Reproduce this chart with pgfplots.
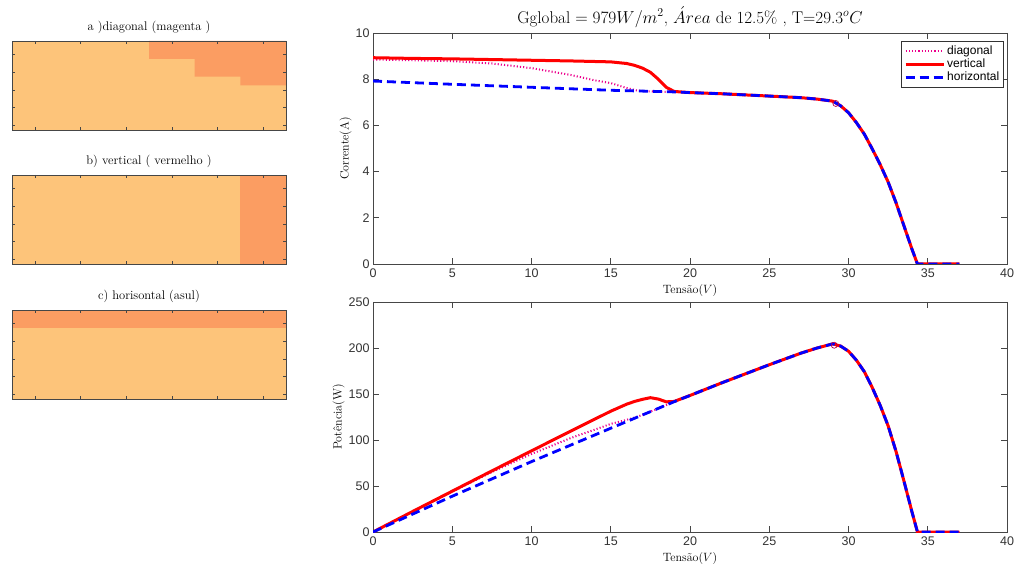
\documentclass[border=0pt]{standalone}
\usepackage{fontspec}
\usepackage{pgfplots}
\pgfplotsset{compat=1.18}
\newfontfamily\hv{Liberation Sans}

\definecolor{cellA}{RGB}{253,196,122}
\definecolor{cellB}{RGB}{251,157,98}
\definecolor{axgray}{RGB}{70,70,70}

\pgfplotsset{
  panel/.style={
    scale only axis, width=274pt, height=89pt, anchor=north west,
    xmin=0, xmax=6, ymin=0, ymax=10, y dir=reverse,
    xtick={0.5,1.5,...,5.5}, ytick={1.5,3.5,5.5,7.5,9.5},
    xticklabels={}, yticklabels={},
    tick align=inside, major tick length=3pt,
    axis on top, axis line style={axgray, line width=0.8pt},
    every tick/.style={axgray, line width=0.6pt},
    title style={font=\fontsize{12.5}{14}\selectfont, yshift=-2pt},
  },
  main/.style={
    scale only axis, width=634pt, height=231pt, anchor=north west,
    xmin=0, xmax=40, xtick={0,5,...,40},
    tick align=inside, major tick length=6pt,
    axis line style={axgray, line width=0.8pt},
    every tick/.style={axgray, line width=0.6pt},
    tick label style={font=\hv\fontsize{12.5}{13}\selectfont, text=black!80},
    xticklabel style={yshift=-1pt},
    /pgf/number format/assume math mode=true,
    label style={font=\fontsize{12}{14}\selectfont},
    xlabel style={yshift=0pt},
    ylabel style={yshift=-3pt},
  },
  diag/.style={magenta, line width=2pt, dash pattern=on 1.1pt off 2.1pt},
  vert/.style={red, line width=3pt},
  horz/.style={blue, line width=2.8pt, dash pattern=on 9pt off 5pt},
}

\begin{document}
\begin{tikzpicture}
\useasboundingbox (0,0) rectangle (1021pt,-572pt);

% left panels: shaded areas
\begin{axis}[panel, at={(12pt,-41pt)}, title={a )diagonal (magenta )}]
\addplot[fill=cellA, draw=none] coordinates {(0,0) (6,0) (6,10) (0,10)} -- cycle;
\addplot[fill=cellB, draw=none] coordinates {(3,0) (6,0) (6,5) (5,5) (5,4) (4,4) (4,2) (3,2)} -- cycle;
\end{axis}

\begin{axis}[panel, at={(12pt,-175pt)}, title={b) vertical ( vermelho )}]
\addplot[fill=cellA, draw=none] coordinates {(0,0) (6,0) (6,10) (0,10)} -- cycle;
\addplot[fill=cellB, draw=none] coordinates {(5,0) (6,0) (6,10) (5,10)} -- cycle;
\end{axis}

\begin{axis}[panel, at={(12pt,-310pt)}, title={c) horisontal (asul)}]
\addplot[fill=cellA, draw=none] coordinates {(0,0) (6,0) (6,10) (0,10)} -- cycle;
\addplot[fill=cellB, draw=none] coordinates {(0,0) (6,0) (6,2) (0,2)} -- cycle;
\end{axis}

% I-V curves
\begin{axis}[main, at={(373pt,-33pt)},
  ymin=0, ymax=10, ytick={0,2,...,10},
  xlabel={Tens\~ao$(V)$}, ylabel={Corrente(A)},
  title={Gglobal $=979W/m^2$, $\acute{A}rea$ de 12.5\% , T=29.3$^oC$},
  title style={font=\fontsize{17}{19}\selectfont, yshift=-4pt},
  legend style={at={(1,1)}, anchor=north east, xshift=-3pt, yshift=-8pt,
    draw=black!80, line width=0.6pt, font=\hv\fontsize{12}{13}\selectfont,
    cells={anchor=west}, row sep=-1pt, inner sep=2.5pt},
  legend image code/.code={\draw[#1] (0pt,0pt) -- (38pt,0pt);},
]
\addplot[diag] coordinates {
  (0,8.85) (2.5,8.82) (5,8.78) (7.5,8.68) (10,8.48) (12.5,8.18) (14,7.95)
  (15,7.83) (16,7.62) (16.6,7.52) (17,7.49) (18,7.46) (19,7.45) (20,7.42)
  (22,7.37) (25,7.27) (27,7.2) (28,7.14) (29,7.05) (29.5,6.85) (30,6.55)
  (30.5,6.12) (31,5.62) (31.5,4.98) (32,4.3) (32.5,3.55) (33,2.65)
  (33.5,1.65) (34,0.65) (34.35,0) (37,0)};
\addplot[vert] coordinates {
  (0,8.93) (2.5,8.9) (5,8.88) (7.5,8.85) (10,8.82) (12.5,8.79) (15,8.75)
  (16,8.68) (16.5,8.6) (17,8.48) (17.5,8.3) (18,8.0) (18.5,7.65) (19,7.47) (20,7.42)
  (22,7.37) (25,7.27) (27,7.2) (28,7.14) (29,7.05) (29.5,6.85) (30,6.55)
  (30.5,6.12) (31,5.62) (31.5,4.98) (32,4.3) (32.5,3.55) (33,2.65)
  (33.5,1.65) (34,0.65) (34.35,0) (37,0)};
\addplot[horz] coordinates {
  (0,7.92) (5,7.78) (10,7.65) (15,7.52) (19,7.45) (20,7.42)
  (22,7.37) (25,7.27) (27,7.2) (28,7.14) (29,7.05) (29.5,6.85) (30,6.55)
  (30.5,6.12) (31,5.62) (31.5,4.98) (32,4.3) (32.5,3.55) (33,2.65)
  (33.5,1.65) (34,0.65) (34.35,0) (37,0)};
\addplot[only marks, mark=o, mark size=3pt, red!70!blue, line width=0.7pt, forget plot]
  coordinates {(29.2,6.95)};
\legend{diagonal, vertical, horizontal}
\end{axis}

% P-V curves
\begin{axis}[main, at={(373pt,-302pt)}, height=230pt,
  ymin=0, ymax=250, ytick={0,50,...,250},
  xlabel={Tens\~ao$(V)$}, ylabel={Pot\^encia(W)},
]
\addplot[diag] coordinates {
  (0,0) (2.5,22.1) (5,43.9) (7.5,65.1) (10,84.8) (12.5,102.3) (14,111.3)
  (15,117.5) (16,121.9) (16.6,124.8) (17,127.3) (18,134.3) (19,141.6) (20,148.4)
  (22,162.1) (25,181.8) (27,194.4) (28,199.9) (29,204.5) (29.5,202.1) (30,196.5)
  (30.5,186.7) (31,174.2) (31.5,156.9) (32,137.6) (32.5,115.4) (33,87.5)
  (33.5,55.3) (34,22.1) (34.35,0) (37,0)};
\addplot[vert] coordinates {
  (0,0) (2.5,22.3) (5,44.4) (7.5,66.4) (10,88.2) (12.5,109.9) (15,131.3)
  (16,138.9) (16.5,141.9) (17,144.2) (17.5,146.0) (18,144.5) (18.5,141.5) (19,141.9)
  (20,148.4) (22,162.1) (25,181.8) (27,194.4) (28,199.9) (29,204.5) (29.5,202.1)
  (30,196.5) (30.5,186.7) (31,174.2) (31.5,156.9) (32,137.6) (32.5,115.4) (33,87.5)
  (33.5,55.3) (34,22.1) (34.35,0) (37,0)};
\addplot[horz] coordinates {
  (0,0) (5,38.9) (10,76.5) (15,112.8) (19,141.6) (20,148.4)
  (22,162.1) (25,181.8) (27,194.4) (28,199.9) (29,204.5) (29.5,202.1)
  (30,196.5) (30.5,186.7) (31,174.2) (31.5,156.9) (32,137.6) (32.5,115.4) (33,87.5)
  (33.5,55.3) (34,22.1) (34.35,0) (37,0)};
\addplot[only marks, mark=o, mark size=3pt, red!70!blue, line width=0.7pt]
  coordinates {(29.1,203)};
\end{axis}
\end{tikzpicture}
\end{document}
